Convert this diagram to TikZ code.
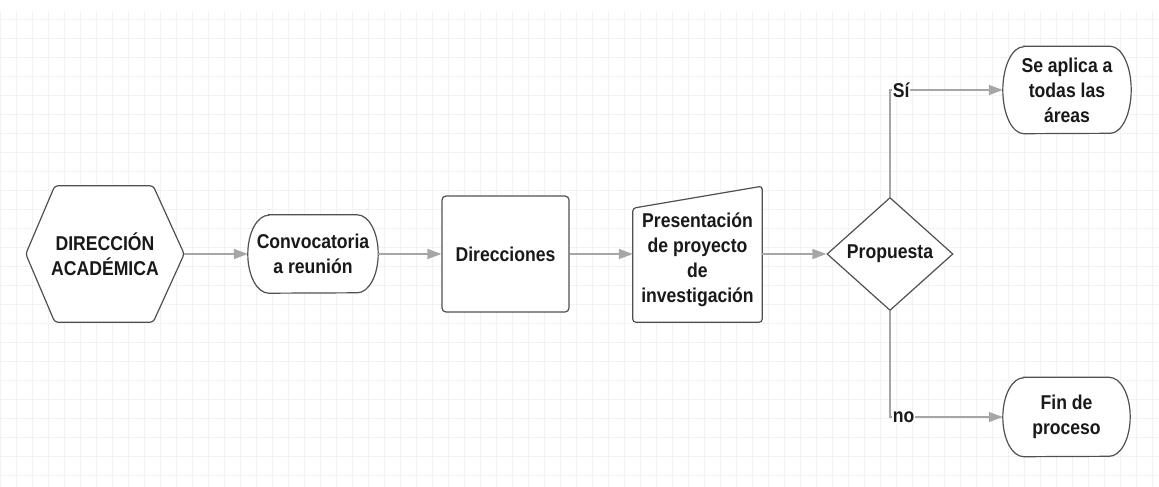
\documentclass[tikz,border=0pt]{standalone}
\usepackage{fontspec}
\setmainfont[FakeStretch=0.88]{Liberation Sans}
\usetikzlibrary{shapes.geometric,arrows.meta,calc}
\definecolor{lineg}{RGB}{166,166,166}
\definecolor{gridg}{RGB}{242,242,242}
\definecolor{edgeg}{RGB}{80,80,80}
\definecolor{textk}{RGB}{25,25,25}
\pgfdeclarelayer{grid}
\pgfdeclarelayer{outline}
\pgfsetlayers{grid,outline,main}

\begin{document}
\begin{tikzpicture}[x=1pt,y=1pt,
            arrow/.style={line width=1.5pt,lineg,-{Triangle[length=14pt,width=10pt]}},
            outline/.style={draw=edgeg,line width=1.2pt,fill=white,rounded corners=3pt},
            every node/.style={font=\fontsize{20}{25}\selectfont\bfseries,text=textk,
                               align=center,inner sep=0pt},
            answer/.style={fill=white,inner sep=1pt,anchor=west,xshift=1pt}
         ]
      \useasboundingbox (0,0) rectangle (1159,-487);
      \begin{pgfonlayer}{grid}
        \fill[white] (0,0) rectangle (1159,-487);
        \draw[gridg,line width=0.8pt,xstep=16,ystep=19] (0,-487) grid (1159,-12);
      \end{pgfonlayer}

      \node[minimum width=158,minimum height=136] (hexa) at (105,-254) {DIRECCIÓN\\ACADÉMICA};
      \node[minimum width=130,minimum height=78] (conv) at (313,-254) {Convocatoria\\a reunión};
      \node[outline,rectangle,rounded corners=4pt,minimum width=127,minimum height=116] (dirs) at (505.5,-254) {Direcciones};
      \node[minimum width=129,minimum height=124] (pres) at (697.5,-260) {Presentación\\de proyecto\\de\\investigación};
      \node[draw=edgeg,line width=1.2pt,fill=white,diamond,minimum width=126,minimum height=113] (prop) at (890,-254) {Propuesta};
      \node[minimum width=128,minimum height=87] (sea) at (1067,-90) {Se aplica a\\todas las\\áreas};
      \node[minimum width=127,minimum height=79] (fin) at (1066.5,-417) {Fin de\\proceso};

      % outlines of the custom shapes
      \begin{pgfonlayer}{outline}
        \draw[outline] (hexa.west) -- ($(hexa.north west)+(29,0)$) -- ($(hexa.north east)+(-31,0)$)
             -- (hexa.east) -- ($(hexa.south east)+(-31,0)$) -- ($(hexa.south west)+(29,0)$) -- cycle;
        \draw[outline] (pres.south west) -- ($(pres.south west)+(0,114)$)
             -- ($(pres.south east)+(0,136)$) -- (pres.south east) -- cycle;
        \foreach \n/\ry in {conv/39,sea/43.5,fin/39.5}
          \draw[outline,rounded corners=0pt] ($(\n.north west)+(21,0)$) -- ($(\n.north east)+(-21,0)$)
               arc[start angle=90,end angle=-90,x radius=21,y radius=\ry]
               -- ($(\n.south west)+(21,0)$)
               arc[start angle=270,end angle=90,x radius=21,y radius=\ry] -- cycle;
      \end{pgfonlayer}

      \draw[arrow] (hexa) -- (conv);
      \draw[arrow] (conv) -- (dirs);
      \draw[arrow] (dirs.east) -- (dirs.east -| pres.west);
      \draw[arrow] (pres.east |- prop) -- (prop);
      \draw[arrow] (prop.north) |- node[pos=0.5,answer] {Sí} (sea.west);
      \draw[arrow] (prop.south) |- node[pos=0.5,answer] {no} (fin.west);

   \end{tikzpicture}
\end{document}
